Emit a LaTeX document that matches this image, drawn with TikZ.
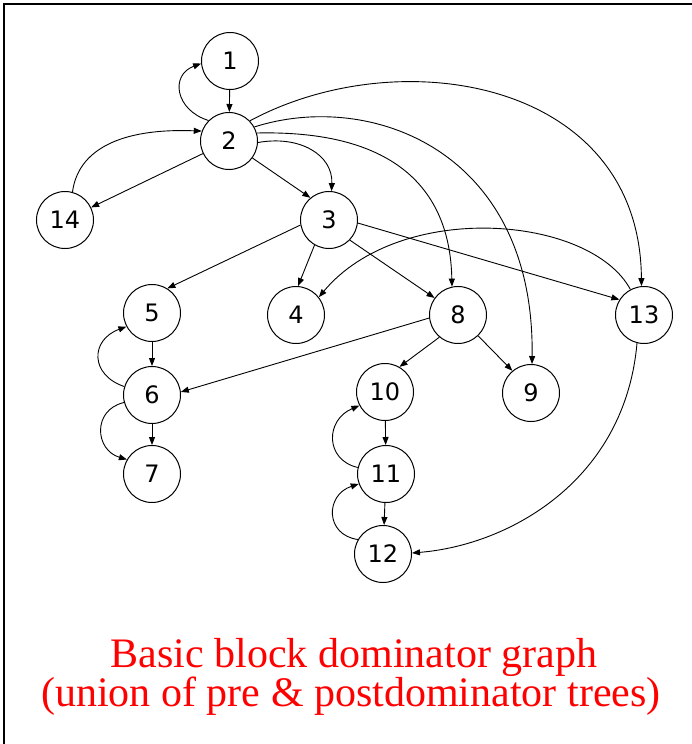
\documentclass[tikz,border=0pt]{standalone}
\usepackage{fontspec}
\setmainfont{Liberation Serif}
\newfontfamily\digitfont{DejaVu Sans}
\usetikzlibrary{arrows.meta}
\tikzset{
  block/.style={circle, draw=black, line width=1pt, minimum size=57pt, inner sep=0pt,
    font=\digitfont\fontsize{24}{28}\selectfont},
  edge/.style={line width=0.9pt, -{Triangle[length=8pt,width=6pt]}},
  caption/.style={text=red, anchor=base, inner sep=0pt, font=\fontsize{42}{46}\selectfont},
  frame/.style={line width=2pt, black}
}
\begin{document}
\begin{tikzpicture}[x=1pt,y=1pt]
\useasboundingbox (0,0) rectangle (692,-744);
% frame along the top and left edges
\draw[frame] (4,-744) -- (4,-4) -- (692,-4);

% basic blocks
\node[block] (n1)  at (230,-61)  {1};
\node[block] (n2)  at (229,-141) {2};
\node[block] (n14) at (65,-220)  {14};
\node[block] (n3)  at (329,-220) {3};
\node[block] (n4)  at (296,-315) {4};
\node[block] (n8)  at (458,-315) {8};
\node[block] (n13) at (644,-315) {13};
\node[block] (n9)  at (531,-393) {9};
\node[block] (n5)  at (152,-313) {5};
\node[block] (n6)  at (152,-395) {6};
\node[block] (n7)  at (152,-474) {7};
\node[block] (n10) at (385,-392) {10};
\node[block] (n11) at (386,-474) {11};
\node[block] (n12) at (383,-554) {12};

% dominator edges
\draw[edge] (n1) -- (n2);
\draw[edge] (n2.135) .. controls (175,-110) and (170,-75) .. (n1.185);
\draw[edge] (n2) -- (n14);
\draw[edge] (n14.75) .. controls (78,-150) and (120,-128) .. (n2.160);
\draw[edge] (n2.-36) -- (n3.130);
\draw[edge] (n2.-3) .. controls (300,-135) and (333,-155) .. (n3.85);
\draw[edge] (n2.16) .. controls (390,-130) and (450,-185) .. (n8.102);
\draw[edge] (n2.29) .. controls (370,-90) and (535,-150) .. (n9.88);
\draw[edge] (n2.44) .. controls (400,-40) and (640,-80) .. (n13.95);

\draw[edge] (n3.190) -- (n5.58);
\draw[edge] (n3.240) -- (n4.86);
\draw[edge] (n3.-44) -- (n8.144);
\draw[edge] (n3.-6) -- (n13.148);
\draw[edge] (n13.118) .. controls (590,-215) and (400,-200) .. (n4.38);

\draw[edge] (n8.186) -- (n6.6);
\draw[edge] (n8.230) -- (n10.60);
\draw[edge] (n8.-46) -- (n9.130);
\draw[edge] (n13.256) .. controls (625,-480) and (510,-545) .. (n12.2);

\draw[edge] (n5) -- (n6);
\draw[edge] (n6.163) .. controls (90,-375) and (90,-340) .. (n5.208);
\draw[edge] (n6) -- (n7);
\draw[edge] (n6.195) .. controls (92,-410) and (95,-450) .. (n7.150);

\draw[edge] (n10) -- (n11);
\draw[edge] (n11.167) .. controls (325,-460) and (325,-420) .. (n10.208);
\draw[edge] (n11) -- (n12);
\draw[edge] (n12.150) .. controls (325,-535) and (325,-495) .. (n11.200);

% caption
\node[caption] (cap1) at (354,-667) {Basic block dominator graph};
\node[caption] (cap2) at (351,-706) {(union of pre \& postdominator trees)};
\end{tikzpicture}
\end{document}
